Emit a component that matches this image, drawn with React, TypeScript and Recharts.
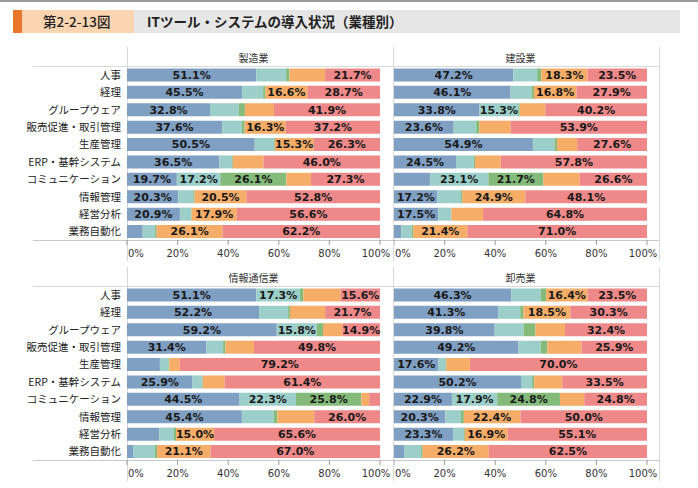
import React from 'react';
import { BarChart, Bar, XAxis, YAxis, LabelList } from 'recharts';

const categories = ['人事', '経理', 'グループウェア', '販売促進・取引管理', '生産管理', 'ERP・基幹システム', 'コミュニケーション', '情報管理', '経営分析', '業務自動化'];
const industries = ['製造業', '建設業', '情報通信業', '卸売業'];

const manufacturing = [
  [51.1, 11.8, 1.3, 14.1, 21.7],
  [45.5, 8.3, 0.9, 16.6, 28.7],
  [32.8, 11.4, 2.4, 11.5, 41.9],
  [37.6, 7.8, 1.1, 16.3, 37.2],
  [50.5, 7.6, 0.3, 15.3, 26.3],
  [36.5, 5.0, 0.3, 12.2, 46.0],
  [19.7, 17.2, 26.1, 9.7, 27.3],
  [20.3, 5.9, 0.5, 20.5, 52.8],
  [20.9, 4.4, 0.2, 17.9, 56.6],
  [6.2, 4.8, 0.7, 26.1, 62.2],
];
const construction = [
  [47.2, 9.4, 1.6, 18.3, 23.5],
  [46.1, 8.3, 0.9, 16.8, 27.9],
  [33.8, 15.3, 0.6, 10.1, 40.2],
  [23.6, 8.9, 1.2, 12.4, 53.9],
  [54.9, 8.5, 1.0, 8.0, 27.6],
  [24.5, 7.1, 0.4, 10.2, 57.8],
  [14.2, 23.1, 21.7, 14.4, 26.6],
  [17.2, 9.3, 0.5, 24.9, 48.1],
  [17.5, 5.1, 0.1, 12.5, 64.8],
  [2.9, 4.1, 0.6, 21.4, 71.0],
];
const infoComm = [
  [51.1, 17.3, 1.3, 14.7, 15.6],
  [52.2, 11.5, 0.7, 13.9, 21.7],
  [59.2, 15.8, 2.5, 7.6, 14.9],
  [31.4, 6.6, 0.9, 11.3, 49.8],
  [13.0, 3.4, 0.3, 4.1, 79.2],
  [25.9, 3.9, 0.2, 8.6, 61.4],
  [44.5, 22.3, 25.8, 3.1, 4.3],
  [45.4, 12.6, 1.4, 14.6, 26.0],
  [12.7, 5.8, 0.9, 15.0, 65.6],
  [2.4, 8.6, 0.9, 21.1, 67.0],
];
const wholesale = [
  [46.3, 11.7, 2.1, 16.4, 23.5],
  [41.3, 8.6, 1.3, 18.5, 30.3],
  [39.8, 11.4, 4.7, 11.7, 32.4],
  [49.2, 8.8, 2.6, 13.5, 25.9],
  [17.6, 2.7, 0.4, 9.3, 70.0],
  [50.2, 4.4, 0.8, 11.1, 33.5],
  [22.9, 17.9, 24.8, 9.6, 24.8],
  [20.3, 6.2, 1.1, 22.4, 50.0],
  [23.3, 4.4, 0.3, 16.9, 55.1],
  [4.2, 6.5, 0.6, 26.2, 62.5],
];

const seriesKeys = ['s1', 's2', 's3', 's4', 's5'];
const seriesColors = ['#7f9fc3', '#9dcfca', '#84bb7b', '#f5ad68', '#ee8889'];
const xTicks = [0, 20, 40, 60, 80, 100];
const xTickLabels = ['0%', '20%', '40%', '60%', '80%', '100%'];

const JP = '"Noto Sans CJK JP", "Noto Sans", sans-serif';
const LAT = '"DejaVu Sans", Verdana, sans-serif';

function toRows(values: number[][]) {
  return categories.map((c, i) => {
    const row: any = { category: c };
    seriesKeys.forEach((k, j) => (row[k] = values[i][j]));
    return row;
  });
}

const XTick = (props: any) => {
  const { x, y, payload, index } = props;
  const i = xTicks.indexOf(payload.value);
  let anchor: any = 'middle';
  let dx = 0;
  if (payload.value === 0) {
    anchor = 'start';
    dx = 1;
  } else if (payload.value === 100) {
    dx = -4;
  }
  return (
    <text x={x + dx} y={y} dy={10} textAnchor={anchor} fontSize={10} fontFamily={LAT} fill="#333">
      {xTickLabels[i >= 0 ? i : index]}
    </text>
  );
};

const YTick = (props: any) => {
  const { y, payload } = props;
  return (
    <text x={121} y={y} dy={4} textAnchor="end" fontSize={10.5} fontFamily={JP} fill="#222">
      {payload.value}
    </text>
  );
};

const fmt = (v: any) => (typeof v === 'number' && v >= 14.85 ? v.toFixed(1) + '%' : '');

function Panel({ values, left, top, showY }: { values: number[][]; left: number; top: number; showY: boolean }) {
  const data = toRows(values);
  const width = showY ? 393 : 265;
  const right = showY ? 13 : 12;
  return (
    <div style={{ position: 'absolute', left, top }}>
      <BarChart
        width={width}
        height={196}
        data={data}
        layout="vertical"
        margin={{ top: 0, right, bottom: 0, left: 0 }}
        barCategoryGap="14%"
      >
        <XAxis
          type="number"
          domain={[0, 100]}
          ticks={xTicks}
          height={22}
          axisLine={false}
          tickLine={{ stroke: '#9a9a9a' }}
          tickSize={5}
          tick={<XTick />}
          interval={0}
          allowDataOverflow
        />
        <YAxis
          type="category"
          dataKey="category"
          width={showY ? 127 : 0}
          hide={!showY}
          axisLine={false}
          tickLine={false}
          tick={<YTick />}
          interval={0}
        />
        {seriesKeys.map((k, j) => (
          <Bar key={k} dataKey={k} stackId="a" fill={seriesColors[j]} isAnimationActive={false}>
            <LabelList
              dataKey={k}
              position="center"
              formatter={fmt}
              style={{ fontSize: 11, fontWeight: 'bold', fontFamily: LAT, fill: '#1a1a1a' }}
            />
          </Bar>
        ))}
      </BarChart>
    </div>
  );
}

export default function App() {
  const gridColor = '#d9d9d9';
  const vx = [127, 393, 659];
  return (
    <div style={{ position: 'absolute', left: 0, top: 0, width: 698, height: 488, background: '#fff', overflow: 'hidden' }}>
      <svg width={698} height={488} style={{ position: 'absolute', left: 0, top: 0 }}>
        <rect x={0} y={0} width={698} height={2} fill="#9a9a9a" />
        <rect x={13} y={10} width={9} height={23} fill="#e8772a" />
        <rect x={22} y={10} width={112} height={23} fill="#fbd5b1" />
        <rect x={134} y={10} width={546} height={23} fill="#e6e6e6" />
        <text x={43} y={22} dy={5} fontSize={13.5} fontFamily={JP} fontWeight={500} fill="#222">第2-2-13図</text>
        <text x={147} y={22} dy={5} fontSize={13.5} fontFamily={JP} fontWeight={700} fill="#222">ITツール・システムの導入状況（業種別）</text>

        {[0, 220].map((off) => (
          <g key={off}>
            {vx.map((x) => (
              <line key={x} x1={x + 0.5} x2={x + 0.5} y1={47 + off} y2={261 + off} stroke={gridColor} />
            ))}
            <line x1={33} x2={659} y1={66.5 + off} y2={66.5 + off} stroke={gridColor} />
            <line x1={33} x2={659} y1={240.5 + off} y2={240.5 + off} stroke="#c8c8c8" />
          </g>
        ))}
        <text x={253.5} y={58} dy={4} textAnchor="middle" fontSize={10} fontFamily={JP} fill="#333">{industries[0]}</text>
        <text x={520.5} y={58} dy={4} textAnchor="middle" fontSize={10} fontFamily={JP} fill="#333">{industries[1]}</text>
        <text x={253.5} y={278} dy={4} textAnchor="middle" fontSize={10} fontFamily={JP} fill="#333">{industries[2]}</text>
        <text x={520.5} y={278} dy={4} textAnchor="middle" fontSize={10} fontFamily={JP} fill="#333">{industries[3]}</text>
      </svg>
      <Panel values={manufacturing} left={0} top={66} showY={true} />
      <Panel values={construction} left={394} top={66} showY={false} />
      <Panel values={infoComm} left={0} top={286} showY={true} />
      <Panel values={wholesale} left={394} top={286} showY={false} />
    </div>
  );
}
